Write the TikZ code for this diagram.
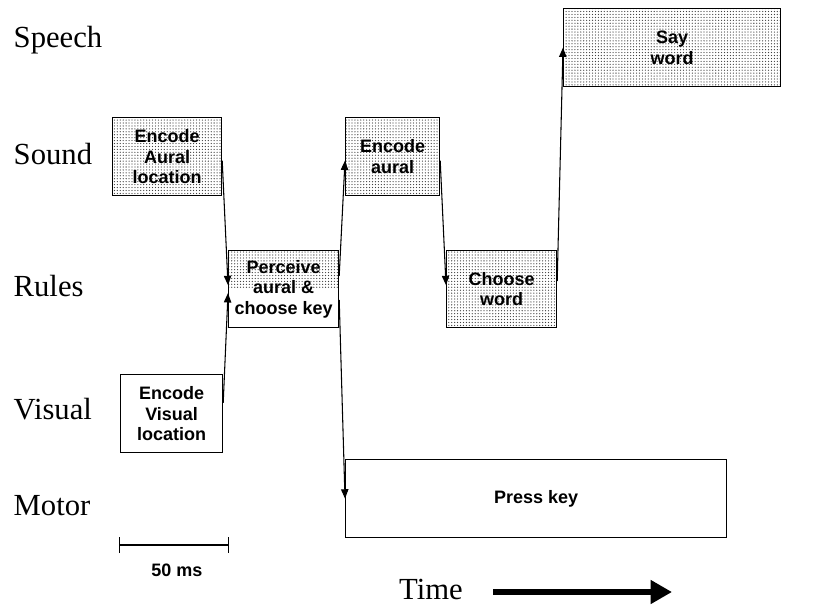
\documentclass[tikz,border=0pt]{standalone}
\usepackage{fontspec}
\setmainfont{Liberation Serif}
\setsansfont{Liberation Sans}
\usetikzlibrary{arrows.meta,patterns.meta}
\tikzdeclarepattern{
  name=finedots,
  type=uncolored,
  bounding box={(-0.6pt,-0.6pt) and (0.6pt,0.6pt)},
  tile size={(2.2pt,2.2pt)},
  code={\fill (0pt,0pt) circle (0.48pt);}
}
\begin{document}
\begin{tikzpicture}[x=0.75pt,y=-0.75pt,
    row/.style={anchor=base west,font=\fontsize{23}{27}\selectfont},
    stage/.style 2 args={draw,line width=0.9pt,anchor=north west,align=center,inner sep=1pt,
      minimum width=#1*0.75pt,minimum height=#2*0.75pt,
      font=\sffamily\bfseries\fontsize{13.5}{15.5}\selectfont},
    dotbox/.style={pattern=finedots,pattern color=black!75},
    halfdots/.style={path picture={\fill[pattern=finedots,pattern color=black!75]
      (path picture bounding box.north west) rectangle (path picture bounding box.east);}},
    link/.style={line width=0.8pt,-{Triangle[length=7pt,width=5.5pt]}}]
    \useasboundingbox (0,0) rectangle (817,607);
    \node[row] (speech) at (9,47) {Speech};
    \node[row] (sound) at (9,164) {Sound};
    \node[row] (rules) at (9,296) {Rules};
    \node[row] (vis) at (9,419) {Visual};
    \node[row] (motor) at (9,515) {Motor};
    \node[stage={109}{78},dotbox] (aural) at (112,117) {Encode\\Aural\\location};
    \node[stage={102}{78}] (visual) at (120,374) {Encode\\Visual\\location};
    \node[stage={110}{77},halfdots] (perceive) at (228,250) {Perceive\\aural \&\\choose key};
    \node[stage={94}{78},dotbox] (encaural) at (345,117) {Encode\\aural};
    \node[stage={110}{77},dotbox] (choose) at (446,250) {Choose\\word};
    \node[stage={217}{78},dotbox] (say) at (563,8) {Say\\word};
    \node[stage={381}{78}] (press) at (345,459) {Press key};
    \draw[link] ([yshift=-3pt]aural.east) -- ([yshift=3pt]perceive.west);
    \draw[link] ([yshift=8pt]visual.east) -- ([yshift=-3pt]perceive.west);
    \draw[link] ([yshift=10pt]perceive.east) -- ([yshift=-3pt]encaural.west);
    \draw[link] ([yshift=-8pt]perceive.east) -- (press.west);
    \draw[link] ([yshift=-3pt]encaural.east) -- ([yshift=3pt]choose.west);
    \draw[link] ([yshift=6pt]choose.east) -- (say.west);
    \coordinate (s0) at (119,545);
    \coordinate (s1) at (229,545);
    \draw[line width=0.9pt,{Bar[width=12pt]}-{Bar[width=12pt]}] (s0) -- (s1);
    \node[font=\sffamily\bfseries\fontsize{13.5}{15.5}\selectfont] (scale) at (177,570) {50 ms};
    \node[font=\fontsize{23}{27}\selectfont,anchor=base] (time) at (431,599) {Time};
    \coordinate (t0) at (493,592);
    \coordinate (t1) at (672,592);
    \draw[line width=5pt,-{Triangle[length=16pt,width=17pt]}] (t0) -- (t1);
\end{tikzpicture}
\end{document}
